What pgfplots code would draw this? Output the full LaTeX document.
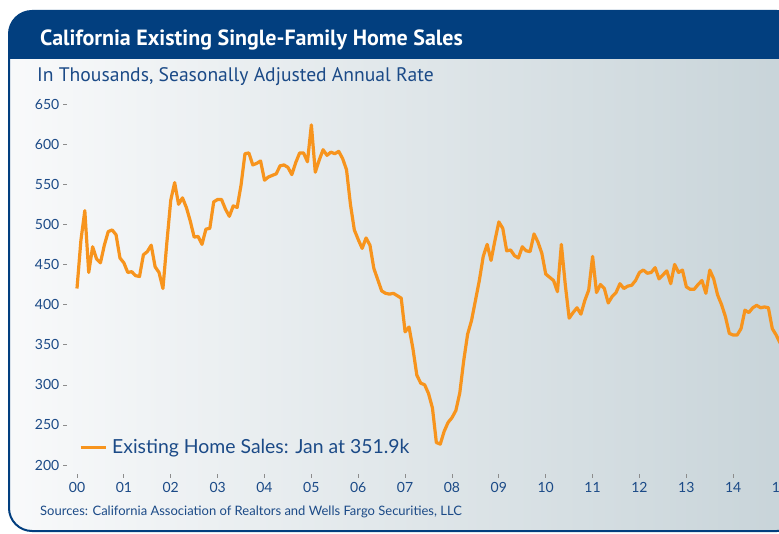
\documentclass[border=0pt]{standalone}
\usepackage{pgfplots}
\pgfplotsset{compat=1.18}
\usepackage{fontspec}
\setmainfont{Lato}
\newfontfamily\titlefont{PT Sans}
\definecolor{navy}{HTML}{023F7F}
\definecolor{txtblue}{HTML}{1B4A87}
\definecolor{lineorange}{HTML}{F7941D}
\definecolor{bgleft}{HTML}{F9FAFB}
\definecolor{bgright}{HTML}{C8D4D9}
\definecolor{tickgray}{HTML}{8C8C8C}
\newcommand{\tmark}{{\color{tickgray}\rule{0.8pt}{3.5pt}}}
\begin{document}
\begin{tikzpicture}[x=1pt,y=1pt]
\useasboundingbox (0,0) rectangle (779,533);
\begin{scope}
\clip[rounded corners=23pt] (9,2) rectangle (800,522);
\shade[left color=bgleft, right color=bgright] (0,0) rectangle (790,533);
\fill[navy] (0,474) rectangle (810,530);
\end{scope}
\draw[navy, line width=2pt, rounded corners=23pt] (9,2) rectangle (800,522);
\node[anchor=west, inner sep=0pt, text=white, font=\titlefont\bfseries\fontsize{22}{22}\selectfont] at (40,493) {California Existing Single-Family Home Sales};
\node[anchor=west, inner sep=0pt, text=txtblue, font=\titlefont\fontsize{19.6}{19.6}\selectfont] at (37,456) {In Thousands, Seasonally Adjusted Annual Rate};
\node[anchor=west, inner sep=0pt, text=txtblue, font=\fontsize{13}{13}\selectfont] at (40,21) {Sources: California Association of Realtors and Wells Fargo Securities, LLC};
\begin{axis}[
  at={(77pt,68pt)}, anchor=south west, scale only axis,
  width=703.1pt, height=361pt,
  xmin=0, xmax=180, ymin=200, ymax=650,
  clip=false,
  axis line style={draw=none},
  major tick length=0pt,
  /pgf/number format/assume math mode=true,
  ytick={200,250,...,650},
  yticklabel={\pgfmathprintnumber{\tick}\hspace{4pt}{\color{tickgray}\rule[0.32em]{3.5pt}{0.8pt}}},
  yticklabel style={font=\fontsize{14}{14}\selectfont, text=txtblue, anchor=east, inner sep=0pt, xshift=-10pt},
  xtick={0,12,...,180},
  xticklabels={{\tmark\\00},{\tmark\\01},{\tmark\\02},{\tmark\\03},{\tmark\\04},{\tmark\\05},{\tmark\\06},{\tmark\\07},{\tmark\\08},{\tmark\\09},{\tmark\\10},{\tmark\\11},{\tmark\\12},{\tmark\\13},{\tmark\\14},{\tmark\\15}},
  xticklabel style={font=\fontsize{14}{14.5}\selectfont, text=txtblue, anchor=north, inner sep=0pt, yshift=-9pt, align=center},
  legend style={at={(axis cs:0.5,222)}, anchor=west, draw=none, fill=none, font=\fontsize{19.4}{19.4}\selectfont, text=txtblue, inner sep=0pt},
  legend cell align=left,
  legend image code/.code={\draw[lineorange, line width=3pt] (0pt,0pt) -- (25pt,0pt);},
]
\addplot[lineorange, line width=3.2pt, line join=round, no markers] coordinates {
(0,420)(1,480)(2,517)(3,440)(4,472)(5,457)(6,452)(7,474)(8,491)(9,493)(10,487)(11,458)
(12,452)(13,440)(14,441)(15,436)(16,435)(17,462)(18,466)(19,474)(20,447)(21,440)(22,420)(23,477)
(24,530)(25,552)(26,525)(27,533)(28,521)(29,504)(30,484)(31,485)(32,475)(33,494)(34,495)(35,528)
(36,531)(37,531)(38,519)(39,510)(40,523)(41,521)(42,549)(43,588)(44,589)(45,574)(46,576)(47,579)
(48,555)(49,559)(50,561)(51,563)(52,573)(53,574)(54,571)(55,562)(56,577)(57,589)(58,589)(59,578)
(60,624)(61,565)(62,580)(63,593)(64,586)(65,590)(66,588)(67,591)(68,582)(69,568)(70,525)(71,493)
(72,481)(73,470)(74,483)(75,474)(76,445)(77,431)(78,417)(79,414)(80,413)(81,414)(82,411)(83,408)
(84,366)(85,372)(86,345)(87,312)(88,302)(89,300)(90,289)(91,271)(92,228)(93,226)(94,242)(95,253)
(96,259)(97,268)(98,290)(99,330)(100,363)(101,380)(102,405)(103,430)(104,460)(105,475)(106,455)(107,480)
(108,503)(109,495)(110,467)(111,468)(112,461)(113,458)(114,472)(115,467)(116,466)(117,488)(118,478)(119,464)
(120,438)(121,434)(122,430)(123,416)(124,475)(125,425)(126,383)(127,390)(128,396)(129,388)(130,405)(131,418)
(132,460)(133,415)(134,425)(135,420)(136,402)(137,410)(138,415)(139,426)(140,420)(141,423)(142,424)(143,430)
(144,440)(145,443)(146,439)(147,440)(148,446)(149,432)(150,437)(151,442)(152,426)(153,450)(154,440)(155,443)
(156,422)(157,419)(158,419)(159,425)(160,430)(161,414)(162,443)(163,432)(164,412)(165,400)(166,385)(167,364)
(168,362)(169,362)(170,370)(171,393)(172,390)(173,396)(174,399)(175,396)(176,397)(177,396)(178,370)(179,362)
(180,352)
};
\addlegendentry{\hspace{3pt}Existing Home Sales: Jan at 351.9k}
\end{axis}
\end{tikzpicture}
\end{document}
